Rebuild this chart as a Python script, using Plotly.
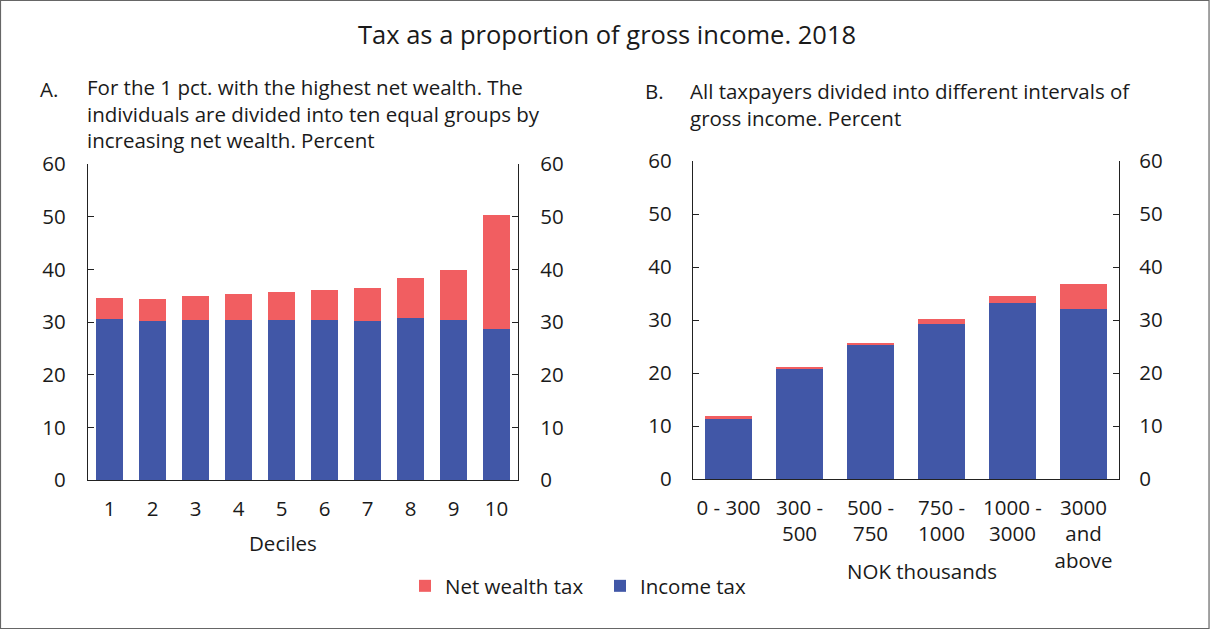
import plotly.graph_objects as go

W, H = 1210, 629

# ---- data ----
deciles = ["1", "2", "3", "4", "5", "6", "7", "8", "9", "10"]
income_tax_a = [30.5, 30.1, 30.4, 30.3, 30.4, 30.4, 30.1, 30.8, 30.4, 28.7]
wealth_tax_a = [4.1, 4.3, 4.6, 5.0, 5.3, 5.7, 6.4, 7.5, 9.5, 21.6]

income_groups = ["0 - 300", "300 -<br>500", "500 -<br>750", "750 -<br>1000",
                 "1000 -<br>3000", "3000<br>and<br>above"]
income_tax_b = [11.3, 20.8, 25.2, 29.3, 33.2, 32.0]
wealth_tax_b = [0.5, 0.4, 0.5, 0.8, 1.4, 4.8]

y_ticks = [0, 10, 20, 30, 40, 50, 60]

title_text = "Tax as a proportion of gross income. 2018"
sub_a_lines = ["For the 1 pct. with the highest net wealth. The",
               "individuals are divided into ten equal groups by",
               "increasing net wealth. Percent"]
sub_b_lines = ["All taxpayers divided into different intervals of",
               "gross income. Percent"]

RED = "#F15E61"
BLUE = "#4157A7"
FONT = "Open Sans"
TXT = "#1a1a1a"
FS = 20.5


def px_x(p):
    return p / W


def px_y(p):
    return 1 - p / H


fig = go.Figure()

# Panel A
fig.add_trace(go.Bar(x=deciles, y=income_tax_a, name="Income tax", marker_color=BLUE,
                     marker_line_width=0, xaxis="x", yaxis="y", legendgroup="inc"))
fig.add_trace(go.Bar(x=deciles, y=wealth_tax_a, name="Net wealth tax", marker_color=RED,
                     marker_line_width=0, xaxis="x", yaxis="y", legendgroup="nw"))
# right-side mirrored axis for panel A
fig.add_trace(go.Scatter(x=deciles, y=[a + b for a, b in zip(income_tax_a, wealth_tax_a)],
                         mode="none", showlegend=False, hoverinfo="skip",
                         xaxis="x", yaxis="y2"))

# Panel B
fig.add_trace(go.Bar(x=income_groups, y=income_tax_b, name="Income tax", marker_color=BLUE,
                     marker_line_width=0, xaxis="x2", yaxis="y3", legendgroup="inc",
                     showlegend=False))
fig.add_trace(go.Bar(x=income_groups, y=wealth_tax_b, name="Net wealth tax", marker_color=RED,
                     marker_line_width=0, xaxis="x2", yaxis="y3", legendgroup="nw",
                     showlegend=False))
fig.add_trace(go.Scatter(x=income_groups, y=[a + b for a, b in zip(income_tax_b, wealth_tax_b)],
                         mode="none", showlegend=False, hoverinfo="skip",
                         xaxis="x2", yaxis="y4"))

yax_common = dict(range=[0, 60], tickvals=y_ticks, showgrid=False, zeroline=False,
                  showline=True, linecolor="#222", linewidth=1.3, ticks="inside",
                  ticklen=6, tickcolor="#222", tickwidth=1.3, automargin=False,
                  tickfont=dict(family=FONT, size=FS, color=TXT), fixedrange=True)
xax_common = dict(showgrid=False, zeroline=False, showline=True, linecolor="#222",
                  linewidth=1.3, ticks="", automargin=False, ticklabelstandoff=10,
                  tickfont=dict(family=FONT, size=FS, color=TXT), fixedrange=True)

A_dom_x = [px_x(88), px_x(518)]
A_dom_y = [px_y(480), px_y(164)]
B_dom_x = [px_x(693), px_x(1119)]
B_dom_y = [px_y(479), px_y(161)]

fig.update_layout(
    width=W, height=H, autosize=False,
    margin=dict(l=0, r=0, t=0, b=0, pad=0),
    paper_bgcolor="white", plot_bgcolor="white",
    barmode="stack", bargap=0.35,
    font=dict(family=FONT, size=FS, color=TXT),
    xaxis=dict(domain=A_dom_x, anchor="y", **xax_common),
    yaxis=dict(domain=A_dom_y, anchor="x", side="left", ticklabelstandoff=17, **yax_common),
    yaxis2=dict(overlaying="y", anchor="x", side="right", ticklabelstandoff=17, **yax_common),
    xaxis2=dict(domain=B_dom_x, anchor="y3", **xax_common),
    yaxis3=dict(domain=B_dom_y, anchor="x2", side="left", ticklabelstandoff=16, **yax_common),
    yaxis4=dict(overlaying="y3", anchor="x2", side="right", ticklabelstandoff=15, **yax_common),
    legend=dict(orientation="h", x=px_x(405), xanchor="left", y=px_y(586), yanchor="middle",
                traceorder="reversed", font=dict(family=FONT, size=FS, color=TXT),
                entrywidth=150, entrywidthmode="pixels", itemwidth=30, bgcolor="rgba(0,0,0,0)"),
    showlegend=True,
)


def txt(text, x, y, xanchor="left", size=FS, yanchor="middle"):
    return dict(text=text, x=px_x(x), y=px_y(y), xref="paper", yref="paper",
                xanchor=xanchor, yanchor=yanchor, showarrow=False, align="left",
                font=dict(family=FONT, size=size, color=TXT))


ann = [txt(title_text, 607, 34, "center", 25.5)]
ann.append(txt("A.", 38, 89))
ann.append(txt("<br>".join(sub_a_lines), 85, 114))
ann.append(txt("B.", 643, 91))
ann.append(txt("<br>".join(sub_b_lines), 688, 104))
ann.append(txt("Deciles", 283, 543, "center"))
ann.append(txt("NOK thousands", 922, 571, "center"))
fig.update_layout(annotations=ann)

fig.add_shape(type="rect", xref="paper", yref="paper", x0=0.0004, x1=0.9992, y0=0.0008, y1=0.9992,
              line=dict(color="#666", width=1.2), fillcolor="rgba(0,0,0,0)", layer="above")

post = """
document.documentElement.style.margin='0';
document.documentElement.style.padding='0';
document.documentElement.style.overflow='hidden';
document.body.style.margin='0';
document.body.style.padding='0';
document.body.style.overflow='hidden';
var d=document.getElementById('{plot_id}');
d.style.position='absolute'; d.style.left='0px'; d.style.top='0px';
d.style.width='1210px'; d.style.height='629px';
"""
fig.write_html("out.html", post_script=post,
               config={"displayModeBar": False, "responsive": False})
